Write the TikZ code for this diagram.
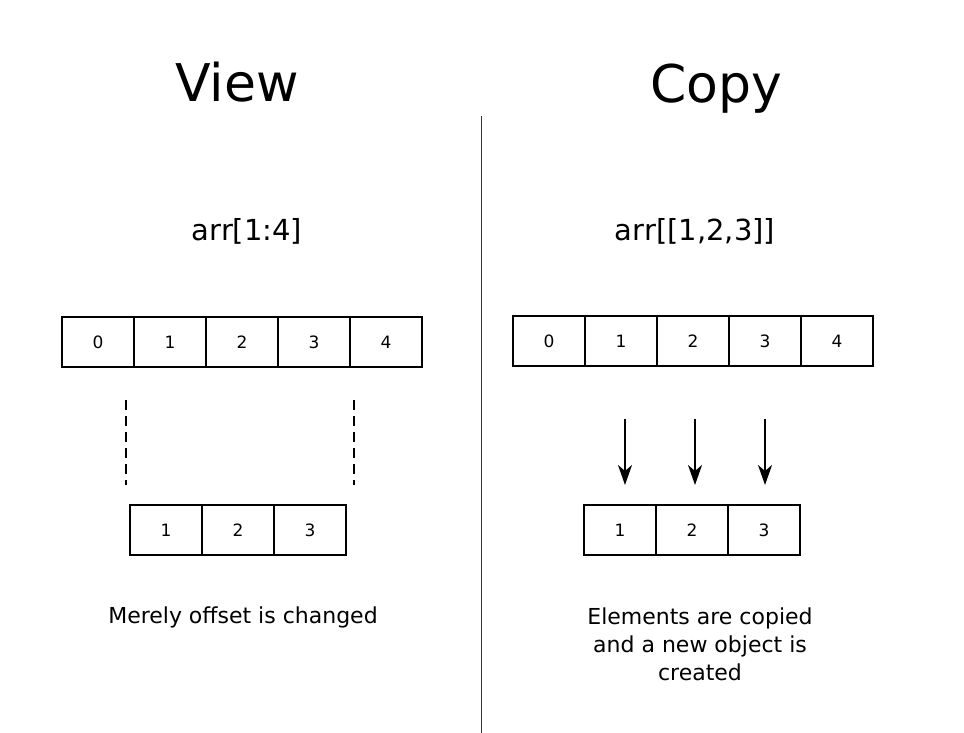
\documentclass[tikz,border=0pt]{standalone}
\usepackage{fontspec}
\setmainfont{DejaVu Sans}
\usetikzlibrary{positioning,arrows.meta}

\begin{document}
\begin{tikzpicture}[x=1pt, y=-1pt, line width=2.1pt,
  every node/.style={inner sep=0pt, outer sep=0pt},
  cell/.style={rectangle, draw, minimum width=72pt, minimum height=50pt, font=\fontsize{17}{20}\selectfont},
  title/.style={anchor=base, font=\fontsize{52}{62}\selectfont},
  expr/.style={anchor=base, font=\fontsize{29}{35}\selectfont},
  note/.style={anchor=base, align=center, font=\fontsize{22}{28}\selectfont},
  guide/.style={line width=1.4pt, dash pattern=on 10pt off 6pt, shorten <=33pt, shorten >=20pt},
  copyarrow/.style={-{Stealth[length=20pt, width=14pt, inset=6pt]}, shorten <=53pt, shorten >=20pt}]
\useasboundingbox (0,0) rectangle (964,733);

\node[title] (view) at (237,102) {View};
\node[title] (copy) at (716,103) {Copy};
\node[expr] (slice) at (247,240) {arr[1:4]};
\node[expr] (fancy) at (695,240) {arr[[1,2,3]]};

% view side
\node[cell] (A0) at (98,342) {0};
\node[cell, right=0pt of A0] (A1) {1};
\node[cell, right=0pt of A1] (A2) {2};
\node[cell, right=0pt of A2] (A3) {3};
\node[cell, right=0pt of A3] (A4) {4};

\node[cell] (S1) at (166,530) {1};
\node[cell, right=0pt of S1] (S2) {2};
\node[cell, right=0pt of S2] (S3) {3};

\draw[guide] ([xshift=-8pt]A1.south west) -- ([xshift=-4pt]S1.north west);
\draw[guide] ([xshift=4pt]A3.south east) -- ([xshift=8pt]S3.north east);

\node[note] (viewnote) at (243,623) {Merely offset is changed};

% copy side
\node[cell] (B0) at (549,341) {0};
\node[cell, right=0pt of B0] (B1) {1};
\node[cell, right=0pt of B1] (B2) {2};
\node[cell, right=0pt of B2] (B3) {3};
\node[cell, right=0pt of B3] (B4) {4};

\node[cell] (N1) at (620,530) {1};
\node[cell, right=0pt of N1] (N2) {2};
\node[cell, right=0pt of N2] (N3) {3};

\draw[copyarrow] ([xshift=4pt]B1.south) -- ([xshift=5pt]N1.north);
\draw[copyarrow] ([xshift=2pt]B2.south) -- ([xshift=3pt]N2.north);
\draw[copyarrow] (B3.south) -- ([xshift=1pt]N3.north);

\node[note] (copynote) at (700,680) {Elements are copied\\and a new object is\\created};

\draw[line width=0.8pt, black!80] (481,116) -- (481,733);
\end{tikzpicture}
\end{document}
